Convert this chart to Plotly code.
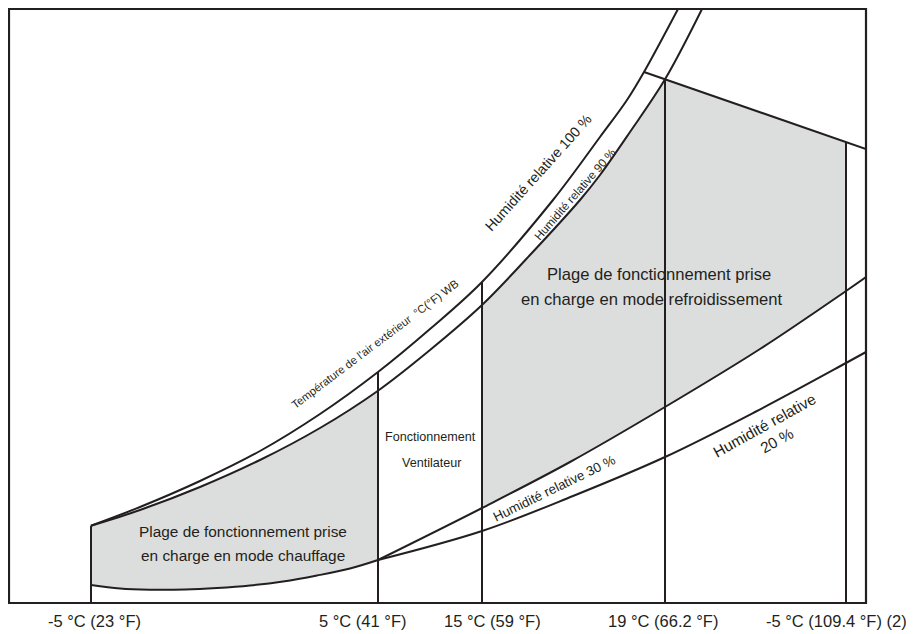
import plotly.graph_objects as go

# ---- values (schematic units = page pixels, x right, y down) ----
temp_labels = ["-5 °C (23 °F)", "5 °C (41 °F)", "15 °C (59 °F)", "19 °C (66.2 °F)", "-5 °C (109.4 °F) (2)"]
temp_pos = [91, 378, 482, 665, 846]
vert_top = [525.7, 372, 282, 79.3, 142.3]

rh100_x = [91, 140, 200, 260, 320, 378, 430, 482, 553, 600, 627, 644, 678]
rh100_y = [525.7, 507, 481, 451, 414, 372, 329, 282, 200, 137, 100, 72, 9]

rh90_x = [91, 140, 200, 260, 320, 378, 430, 482, 530, 580, 600, 630, 665, 702]
rh90_y = [525.7, 510, 487, 460, 428, 390.7, 350, 305, 255, 200, 175, 132, 79.3, 9]

heat_low_x = [91, 120, 150, 185, 217, 250, 283, 317, 350, 378]
heat_low_y = [585, 588.5, 589.7, 589.5, 588, 585.5, 581.5, 575.5, 568.5, 560]

rh30_x = [378, 482, 570, 665, 760, 846, 866]
rh30_y = [560, 508, 462, 407, 349, 291, 277]

rh20_x = [378, 482, 573, 665, 755, 846, 866]
rh20_y = [560, 531, 496, 457, 412, 363, 352]

cool_top_x = [644, 665, 846, 866]
cool_top_y = [72, 79.3, 142.3, 149]

# page has an 8 px body margin: the figure is sized/offset so the frame lands where it is in the reference
PAGE_OFF = 8
X_RANGE = [9, 866]
Y_RANGE = [603, 9]

INK = "#231f20"
FILL = "#dcdddd"
FONT = "Liberation Sans, Arial, sans-serif"

fig = go.Figure()


def fill_between(lx, ly, ux, uy):
    fig.add_trace(go.Scatter(x=lx, y=ly, mode="lines", line=dict(width=0, shape="spline"),
                             hoverinfo="skip", showlegend=False))
    fig.add_trace(go.Scatter(x=ux, y=uy, mode="lines", line=dict(width=0, shape="spline"),
                             fill="tonexty", fillcolor=FILL, hoverinfo="skip", showlegend=False))


# heating range (between 90 % curve and lower boundary, -5 .. 5 °C)
i5 = rh90_x.index(378)
fill_between(heat_low_x, heat_low_y, rh90_x[:i5 + 1], rh90_y[:i5 + 1])
# cooling range, part 1 (15 .. 19 °C)
a, b = rh90_x.index(482), rh90_x.index(665)
c, d = rh30_x.index(482), rh30_x.index(665)
fill_between(rh30_x[c:d + 1], rh30_y[c:d + 1], rh90_x[a:b + 1], rh90_y[a:b + 1])
# cooling range, part 2 (19 °C .. right limit)
e = rh30_x.index(846)
fill_between(rh30_x[d:e + 1], rh30_y[d:e + 1], cool_top_x[1:3], cool_top_y[1:3])

line_style = dict(color=INK, width=2, shape="spline")
for xs, ys in [(rh100_x, rh100_y), (rh90_x, rh90_y), (heat_low_x, heat_low_y),
               (rh30_x, rh30_y), (rh20_x, rh20_y)]:
    fig.add_trace(go.Scatter(x=xs, y=ys, mode="lines", line=line_style,
                             hoverinfo="skip", showlegend=False))

fig.add_trace(go.Scatter(x=cool_top_x, y=cool_top_y, mode="lines",
                         line=dict(color=INK, width=2), hoverinfo="skip", showlegend=False))

vx, vy = [], []
for p, t in zip(temp_pos, vert_top):
    vx += [p, p, None]
    vy += [t, Y_RANGE[0], None]
fig.add_trace(go.Scatter(x=vx, y=vy, mode="lines", line=dict(color=INK, width=2),
                         hoverinfo="skip", showlegend=False))

ann = []


def text(x, y, s, size, angle=0):
    ann.append(dict(x=x, y=y, xref="x", yref="y", text=s, showarrow=False,
                    textangle=angle, font=dict(family=FONT, size=size, color=INK),
                    xanchor="center", yanchor="middle"))


text(243, 531, "Plage de fonctionnement prise", 15.4)
text(243, 555, "en charge en mode chauffage", 15.4)
text(430, 437, "Fonctionnement", 12.6)
text(431.7, 463, "Ventilateur", 12.6)
text(658.7, 274, "Plage de fonctionnement prise", 16.6)
text(651, 299, "en charge en mode refroidissement", 16.6)

text(538, 173, "Humidité relative 100 %", 14.3, -48)
text(574, 194, "Humidité relative 90 %", 11.7, -49)
text(375, 344, "Température de l'air extérieur  °C(°F) WB", 11.3, -37)
text(554, 488, "Humidité relative 30 %", 13.4, -26)
text(764, 425, "Humidité relative", 15.4, -29)
text(776.7, 440, "20 %", 15.4, -29)

plot_h = Y_RANGE[0] - Y_RANGE[1]
label_y = -(621 - Y_RANGE[0]) / plot_h
label_shift = [3, -16, 10, -2.5, -10]
for p, lab, sh in zip(temp_pos, temp_labels, label_shift):
    ann.append(dict(x=p, y=label_y, xref="x", yref="paper", text=lab, showarrow=False,
                    xshift=sh, font=dict(family=FONT, size=16.5, color=INK),
                    xanchor="center", yanchor="middle"))

W, H = 914 - PAGE_OFF, 634 - PAGE_OFF
ml = X_RANGE[0] - PAGE_OFF
mt = Y_RANGE[1] - PAGE_OFF
mr = W - ml - (X_RANGE[1] - X_RANGE[0])
mb = H - mt - plot_h

fig.update_layout(
    width=W, height=H,
    margin=dict(l=ml, r=mr, t=mt, b=mb, pad=0),
    paper_bgcolor="white", plot_bgcolor="white",
    xaxis=dict(range=X_RANGE, visible=False, fixedrange=True),
    yaxis=dict(range=Y_RANGE, visible=False, fixedrange=True),
    annotations=ann,
    shapes=[dict(type="rect", xref="paper", yref="paper", x0=0, y0=0, x1=1, y1=1,
                 line=dict(color=INK, width=2.2), layer="above")],
    showlegend=False,
)

fig.write_html("out.html")
